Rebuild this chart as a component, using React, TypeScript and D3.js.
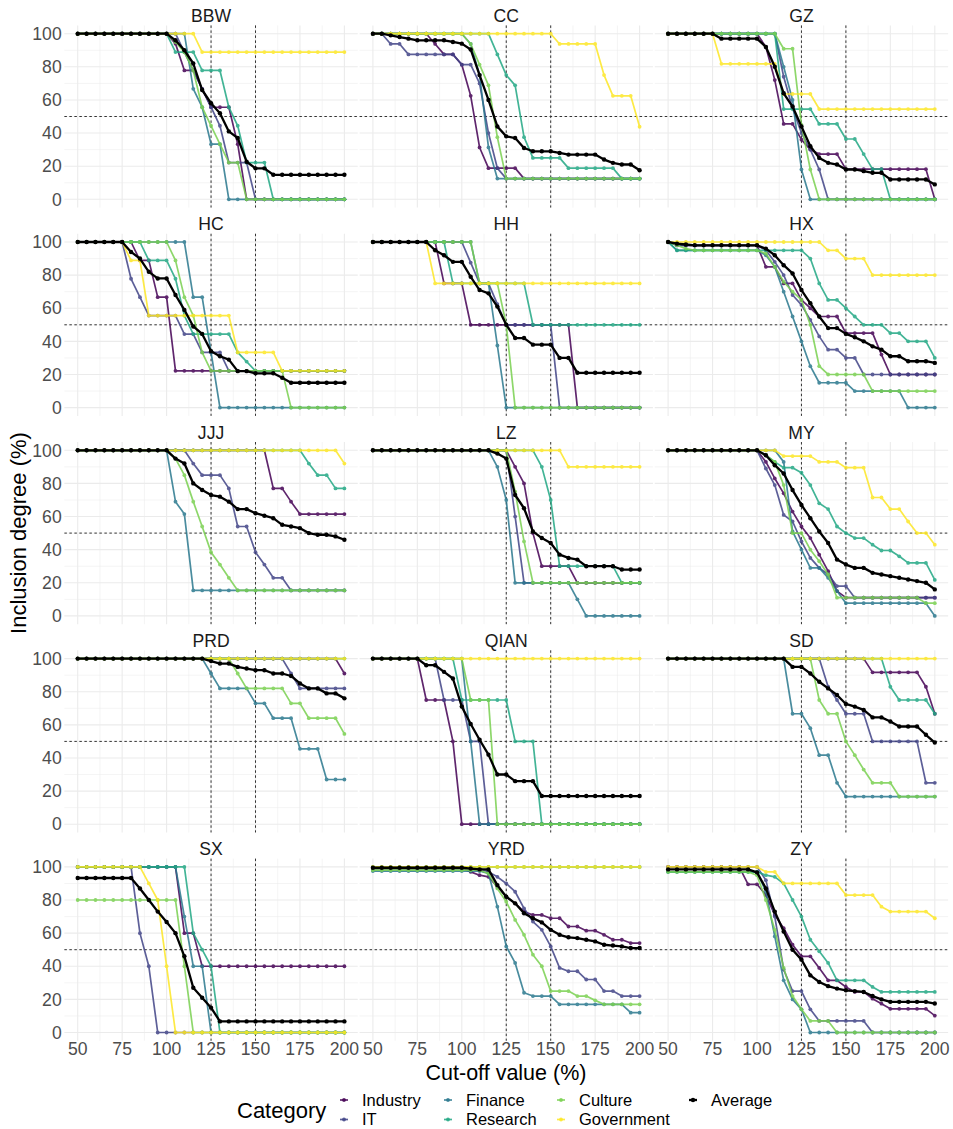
import React from "react";
import * as d3 from "d3";

const cutoffs = [50, 55, 60, 65, 70, 75, 80, 85, 90, 95, 100, 105, 110, 115, 120, 125, 130, 135, 140, 145, 150, 155, 160, 165, 170, 175, 180, 185, 190, 195, 200];
const regions = ["BBW", "CC", "GZ", "HC", "HH", "HX", "JJJ", "LZ", "MY", "PRD", "QIAN", "SD", "SX", "YRD", "ZY"];
const categories = ["Industry", "IT", "Finance", "Research", "Culture", "Government", "Average"];
const catColors = ["#440154", "#414487", "#2A788E", "#22A884", "#7AD151", "#FDE725", "#000000"];
const xMajor = [50, 75, 100, 125, 150, 175, 200];
const xMinor = [62.5, 87.5, 112.5, 137.5, 162.5, 187.5];
const yMajor = [0, 20, 40, 60, 80, 100];
const yMinor = [10, 30, 50, 70, 90];
const refX = [125, 150];
const refY = [50];

// BBW
const bbwIndustry = [100,100,100,100,100,100,100,100,100,100,100,94,77.8,77.8,66.7,55.6,55.6,55.6,33.3,0,0,0,0,0,0,0,0,0,0,0,0];
const bbwIT = [100,100,100,100,100,100,100,100,100,100,100,100,88.9,77.8,66.7,55.6,44.4,22.2,22.2,22.2,0,0,0,0,0,0,0,0,0,0,0];
const bbwFinance = [100,100,100,100,100,100,100,100,100,100,100,100,100,66.7,55.6,33.3,33.3,0,0,0,0,0,0,0,0,0,0,0,0,0,0];
const bbwResearch = [100,100,100,100,100,100,100,100,100,100,100,88.9,88.9,88.9,77.8,77.8,77.8,55.6,44.4,22.2,22.2,22.2,0,0,0,0,0,0,0,0,0];
const bbwCulture = [100,100,100,100,100,100,100,100,100,100,100,95,88.9,77.8,55.6,44.4,33.3,22.2,22.2,0,0,0,0,0,0,0,0,0,0,0,0];
const bbwGov = [100,100,100,100,100,100,100,100,100,100,100,100,100,100,88.9,88.9,88.9,88.9,88.9,88.9,88.9,88.9,88.9,88.9,88.9,88.9,88.9,88.9,88.9,88.9,88.9];
const bbwAvg = [100,100,100,100,100,100,100,100,100,100,100,96,90,82,66,58,52,41,37,22.7,18.7,18.7,14.8,14.8,14.8,14.8,14.8,14.8,14.8,14.8,14.8];

// CC
const ccIndustry = [100,100,100,100,100,100,100,93.8,87.5,87.5,81.3,62.5,31.3,18.8,18.8,18.8,18.8,12.5,12.5,12.5,12.5,12.5,12.5,12.5,12.5,12.5,12.5,12.5,12.5,12.5,12.5];
const ccIT = [100,100,93.8,93.8,87.5,87.5,87.5,87.5,87.5,87.5,81.3,81.3,70,40,18.8,12.5,12.5,12.5,12.5,12.5,12.5,12.5,12.5,12.5,12.5,12.5,12.5,12.5,12.5,12.5,12.5];
const ccFinance = [100,100,100,100,100,100,100,100,100,100,100,93.8,75,31.3,12.5,12.5,12.5,12.5,12.5,12.5,12.5,12.5,12.5,12.5,12.5,12.5,12.5,12.5,12.5,12.5,12.5];
const ccResearch = [100,100,100,100,100,100,100,100,100,100,100,100,100,100,87.5,75,68.8,37.5,25,25,25,25,18.8,18.8,18.8,18.8,18.8,18.8,12.5,12.5,12.5];
const ccCulture = [100,100,100,100,100,100,100,100,100,100,100,93.8,81.3,68.8,37.5,12.5,12.5,12.5,12.5,12.5,12.5,12.5,12.5,12.5,12.5,12.5,12.5,12.5,12.5,12.5,12.5];
const ccGov = [100,100,100,100,100,100,100,100,100,100,100,100,100,100,100,100,100,100,100,100,100,93.8,93.8,93.8,93.8,93.8,75,62.5,62.5,62.5,43.8];
const ccAvg = [100,100,99,98,97,96,96,96,96,95,94,90.5,75,60,44,38,37,31,29,29,29,28,27,27,27,27,24,22,21,21,17.5];

// GZ
const gzIndustry = [100,100,100,100,100,100,100,100,100,100,100,92,72,45.5,45.5,36,30,27.3,27.3,27.3,18.2,18.2,18.2,18.2,18.2,18.2,18.2,18.2,18.2,18.2,0];
const gzIT = [100,100,100,100,100,100,100,100,100,100,100,100,100,74,55,40,30,18,0,0,0,0,0,0,0,0,0,0,0,0,0];
const gzFinance = [100,100,100,100,100,100,100,100,100,100,100,100,100,80,60,18,0,0,0,0,0,0,0,0,0,0,0,0,0,0,0];
const gzResearch = [100,100,100,100,100,100,100,100,100,100,100,100,100,54.5,54.5,54.5,54.5,45.5,45.5,45.5,36.4,36.4,27.3,18.2,18.2,0,0,0,0,0,0];
const gzCulture = [100,100,100,100,100,100,100,100,100,100,100,100,100,90.9,90.9,45,18,0,0,0,0,0,0,0,0,0,0,0,0,0,0];
const gzGov = [100,100,100,100,100,100,81.8,81.8,81.8,81.8,81.8,81.8,81.8,63.6,63.6,63.6,63.6,54.5,54.5,54.5,54.5,54.5,54.5,54.5,54.5,54.5,54.5,54.5,54.5,54.5,54.5];
const gzAvg = [100,100,100,100,100,100,97,97,97,97,97,92,80,64,56,44,32,25,22,21,18,18,17,16,16,12,12,12,12,12,9];

// HC
const hcIndustry = [100,100,100,100,100,100,100,88.9,88.9,66.7,66.7,22.2,22.2,22.2,22.2,22.2,22.2,22.2,22.2,22.2,22.2,22.2,22.2,22.2,22.2,22.2,22.2,22.2,22.2,22.2,22.2];
const hcIT = [100,100,100,100,100,100,77.8,66.7,55.6,55.6,55.6,55.6,44.4,44.4,33.3,33.3,33.3,22.2,22.2,22.2,22.2,22.2,22.2,22.2,22.2,22.2,22.2,22.2,22.2,22.2,22.2];
const hcFinance = [100,100,100,100,100,100,100,100,100,100,100,100,100,66.7,66.7,33.3,0,0,0,0,0,0,0,0,0,0,0,0,0,0,0];
const hcResearch = [100,100,100,100,100,100,100,100,88.9,88.9,88.9,77.8,55.6,44.4,44.4,44.4,44.4,44.4,33.3,27.8,22.2,22.2,22.2,22.2,22.2,22.2,22.2,22.2,22.2,22.2,22.2];
const hcCulture = [100,100,100,100,100,100,100,100,100,100,100,88.9,66.7,55.6,33.3,22.2,22.2,22.2,22.2,22.2,22.2,22.2,22.2,22.2,0,0,0,0,0,0,0];
const hcGov = [100,100,100,100,100,100,88.9,88.9,55.6,55.6,55.6,55.6,55.6,55.6,55.6,55.6,55.6,55.6,33.3,33.3,33.3,33.3,33.3,22.2,22.2,22.2,22.2,22.2,22.2,22.2,22.2];
const hcAvg = [100,100,100,100,100,100,94,90,82,78,78,68,59,49,44.5,34,31,29,22,22,20.7,20.7,20.7,18,15,15,15,15,15,15,15];

// HH
const hhIndustry = [100,100,100,100,100,100,100,100,75,75,75,50,50,50,50,50,50,50,50,50,50,50,50,0,0,0,0,0,0,0,0];
const hhIT = [100,100,100,100,100,100,100,100,100,100,100,87.5,75,75,62.5,50,50,50,50,50,50,0,0,0,0,0,0,0,0,0,0];
const hhFinance = [100,100,100,100,100,100,100,100,100,100,100,100,75,75,37.5,0,0,0,0,0,0,0,0,0,0,0,0,0,0,0,0];
const hhResearch = [100,100,100,100,100,100,100,100,100,75,75,75,75,75,75,75,75,75,50,50,50,50,50,50,50,50,50,50,50,50,50];
const hhCulture = [100,100,100,100,100,100,100,100,100,100,100,100,75,75,75,50,0,0,0,0,0,0,0,0,0,0,0,0,0,0,0];
const hhGov = [100,100,100,100,100,100,100,75,75,75,75,75,75,75,75,75,75,75,75,75,75,75,75,75,75,75,75,75,75,75,75];
const hhAvg = [100,100,100,100,100,100,100,95,92,88,88,79,71,69,61,50,42,42,38,38,38,30,30,21,21,21,21,21,21,21,21];

// HX
const hxIndustry = [100,98,98,98,98,98,98,98,98,98,98,85,85,75,75,65,60,55,55,55,45,45,45,45,32,20,20,20,20,20,20];
const hxIT = [100,98,98,98,98,98,98,98,98,98,98,95,88,80,68,62,53,43,35,35,30,30,20,20,20,20,20,20,20,20,20];
const hxFinance = [100,95,95,95,95,95,95,95,95,95,95,92,85,70,55,40,25,15,15,15,15,10,10,10,10,10,10,0,0,0,0];
const hxResearch = [100,95,95,95,95,95,95,95,95,95,95,95,95,95,95,95,90,75,65,65,60,55,50,50,50,45,45,40,40,40,30];
const hxCulture = [100,98,96,95,95,95,95,95,95,95,95,93,85,76,70,65,50,25,20,20,20,20,20,10,10,10,10,10,10,10,10];
const hxGov = [100,100,100,100,100,100,100,100,100,100,100,100,100,100,100,100,100,100,95,95,90,90,90,80,80,80,80,80,80,80,80];
const hxAvg = [100,99,98.5,98,98,98,98,98,98,98,98,96,92,86,81,71,63,55,48,48,44.5,42.5,40,37,35,31,31,28,28,28,27];

// JJJ
const jjjIndustry = [100,100,100,100,100,100,100,100,100,100,100,100,100,100,100,100,100,100,100,100,100,100,77,77,69,61.5,61.5,61.5,61.5,61.5,61.5];
const jjjIT = [100,100,100,100,100,100,100,100,100,100,100,100,100,92,85,85,85,77,54,54,38.5,31,23,23,15.4,15.4,15.4,15.4,15.4,15.4,15.4];
const jjjFinance = [100,100,100,100,100,100,100,100,100,100,100,69,61.5,15.4,15.4,15.4,15.4,15.4,15.4,15.4,15.4,15.4,15.4,15.4,15.4,15.4,15.4,15.4,15.4,15.4,15.4];
const jjjResearch = [100,100,100,100,100,100,100,100,100,100,100,100,100,100,100,100,100,100,100,100,100,100,100,100,100,100,92,85,85,77,77];
const jjjCulture = [100,100,100,100,100,100,100,100,100,100,100,95,85,69,54,38.5,31,23,15.4,15.4,15.4,15.4,15.4,15.4,15.4,15.4,15.4,15.4,15.4,15.4,15.4];
const jjjGov = [100,100,100,100,100,100,100,100,100,100,100,100,100,100,100,100,100,100,100,100,100,100,100,100,100,100,100,100,100,100,92];
const jjjAvg = [100,100,100,100,100,100,100,100,100,100,100,95,92,80,76,73,72,69,64.5,64.5,62,60.5,59,55,54,53,50,49,49,48,46];

// LZ
const lzIndustry = [100,100,100,100,100,100,100,100,100,100,100,100,100,100,100,100,90,80,50,30,30,30,30,20,20,20,20,20,20,20,20];
const lzIT = [100,100,100,100,100,100,100,100,100,100,100,100,100,100,100,100,60,20,20,20,20,20,20,20,20,20,20,20,20,20,20];
const lzFinance = [100,100,100,100,100,100,100,100,100,100,100,100,100,100,90,70,20,20,20,20,20,20,20,10,0,0,0,0,0,0,0];
const lzResearch = [100,100,100,100,100,100,100,100,100,100,100,100,100,100,100,100,100,100,100,90,70,30,30,30,30,30,30,30,20,20,20];
const lzCulture = [100,100,100,100,100,100,100,100,100,100,100,100,100,100,100,100,75,45,20,20,20,20,20,20,20,20,20,20,20,20,20];
const lzGov = [100,100,100,100,100,100,100,100,100,100,100,100,100,100,100,100,100,100,100,100,100,100,90,90,90,90,90,90,90,90,90];
const lzAvg = [100,100,100,100,100,100,100,100,100,100,100,100,100,100,98,95,73,65,51,47,44,37,35,34,30,30,30,30,28,28,28];

// MY
const myIndustry = [100,100,100,100,100,100,100,100,100,100,100,93,83,74,63,54,47,37,27,15,11,11,11,11,11,11,11,11,11,11,11];
const myIT = [100,100,100,100,100,100,100,100,100,100,100,89,79,61,57,45,35,29,25,18,18,11,11,11,11,11,11,11,11,11,11];
const myFinance = [100,100,100,100,100,100,100,100,100,100,100,100,100,93,51,40,29,29,23,15,7.7,7.7,7.7,7.7,7.7,7.7,7.7,7.7,7.7,7.7,0];
const myResearch = [100,100,100,100,100,100,100,100,100,100,100,97,93,89.5,89.5,86.5,79,68,64.5,54,50,47,47,43,39.5,39.5,36,32,32,32,21.7];
const myCulture = [100,100,100,100,100,100,100,100,100,100,100,97,93,79,50,50,40,33,25,11,11,11,11,11,11,11,11,11,11,7.7,7.7];
const myGov = [100,100,100,100,100,100,100,100,100,100,100,100,100,96.5,96.5,96.5,96.5,93,93,93,89.5,89.5,89.5,71.5,71.5,64.5,64.5,57,50,50,43];
const myAvg = [100,100,100,100,100,100,100,100,100,100,100,97,91,86,76,67,59,51,44,34,31,29,29,26,25,24,23,22,21,20,16];

// PRD
const prdIndustry = [100,100,100,100,100,100,100,100,100,100,100,100,100,100,100,100,100,100,100,100,100,100,100,100,100,100,100,100,100,100,91];
const prdIT = [100,100,100,100,100,100,100,100,100,100,100,100,100,100,100,100,100,100,100,100,100,100,100,100,91,82,82,82,82,82,82];
const prdFinance = [100,100,100,100,100,100,100,100,100,100,100,100,100,100,100,91,82,82,82,82,73,73,64,64,64,45.5,45.5,45.5,27,27,27];
const prdResearch = [100,100,100,100,100,100,100,100,100,100,100,100,100,100,100,100,100,100,100,100,100,100,100,100,100,100,100,100,100,100,100];
const prdCulture = [100,100,100,100,100,100,100,100,100,100,100,100,100,100,100,100,100,100,91,82,82,82,82,82,73,73,64,64,64,64,54.5];
const prdGov = [100,100,100,100,100,100,100,100,100,100,100,100,100,100,100,100,100,100,100,100,100,100,100,100,100,100,100,100,100,100,100];
const prdAvg = [100,100,100,100,100,100,100,100,100,100,100,100,100,100,100,98.5,97,97,95,94,93,93,91,91,89.5,85,82,82,79,79,76];

// QIAN
const qianIndustry = [100,100,100,100,100,100,75,75,75,50,0,0,0,0,0,0,0,0,0,0,0,0,0,0,0,0,0,0,0,0,0];
const qianIT = [100,100,100,100,100,100,100,100,75,75,75,50,50,0,0,0,0,0,0,0,0,0,0,0,0,0,0,0,0,0,0];
const qianFinance = [100,100,100,100,100,100,100,100,100,100,100,50,0,0,0,0,0,0,0,0,0,0,0,0,0,0,0,0,0,0,0];
const qianResearch = [100,100,100,100,100,100,100,100,100,100,75,75,75,75,75,75,50,50,50,0,0,0,0,0,0,0,0,0,0,0,0];
const qianCulture = [100,100,100,100,100,100,100,100,100,100,100,75,75,75,0,0,0,0,0,0,0,0,0,0,0,0,0,0,0,0,0];
const qianGov = [100,100,100,100,100,100,100,100,100,100,100,100,100,100,100,100,100,100,100,100,100,100,100,100,100,100,100,100,100,100,100];
const qianAvg = [100,100,100,100,100,100,96,96,92,88,71,60.5,51,42,30,30,26,26,26,17,17,17,17,17,17,17,17,17,17,17,17];

// SD
const sdIndustry = [100,100,100,100,100,100,100,100,100,100,100,100,100,100,100,100,100,100,100,100,100,100,100,91.7,91.7,91.7,91.7,91.7,91.7,83,66.7];
const sdIT = [100,100,100,100,100,100,100,100,100,100,100,100,100,100,100,100,100,100,83,75,66.7,66.7,66.7,50,50,50,50,50,50,25,25];
const sdFinance = [100,100,100,100,100,100,100,100,100,100,100,100,100,100,66.7,66.7,58,41.7,41.7,25,16.7,16.7,16.7,16.7,16.7,16.7,16.7,16.7,16.7,16.7,16.7];
const sdResearch = [100,100,100,100,100,100,100,100,100,100,100,100,100,100,100,100,100,100,100,100,100,100,100,100,100,83,75,75,75,75,66.7];
const sdCulture = [100,100,100,100,100,100,100,100,100,100,100,100,100,100,100,100,100,75,66.7,66.7,50,41.7,33,25,25,25,16.7,16.7,16.7,16.7,16.7];
const sdGov = [100,100,100,100,100,100,100,100,100,100,100,100,100,100,100,100,100,100,100,100,100,100,100,100,100,100,100,100,100,100,100];
const sdAvg = [100,100,100,100,100,100,100,100,100,100,100,100,100,100,95,95,91,86,82,78,72.6,71,69,64.5,64.5,62,59,59,59,54,49.3];

// SX
const sxIndustry = [100,100,100,100,100,100,100,100,100,100,100,100,60,60,40,40,40,40,40,40,40,40,40,40,40,40,40,40,40,40,40];
const sxIT = [100,100,100,100,100,100,100,60,40,0,0,0,0,0,0,0,0,0,0,0,0,0,0,0,0,0,0,0,0,0,0];
const sxFinance = [100,100,100,100,100,100,100,100,100,100,100,100,70,40,40,0,0,0,0,0,0,0,0,0,0,0,0,0,0,0,0];
const sxResearch = [100,100,100,100,100,100,100,100,100,100,100,100,100,60,50,40,0,0,0,0,0,0,0,0,0,0,0,0,0,0,0];
const sxCulture = [80,80,80,80,80,80,80,80,80,80,80,80,40,0,0,0,0,0,0,0,0,0,0,0,0,0,0,0,0,0,0];
const sxGov = [100,100,100,100,100,100,100,100,90,80,40,0,0,0,0,0,0,0,0,0,0,0,0,0,0,0,0,0,0,0,0];
const sxAvg = [93.3,93.3,93.3,93.3,93.3,93.3,93.3,87,80,73,66.7,60,46,27,21,15,6.7,6.7,6.7,6.7,6.7,6.7,6.7,6.7,6.7,6.7,6.7,6.7,6.7,6.7,6.7];

// YRD
const yrdIndustry = [99,99,99,99,99,99,99,99,99,99,99,97,95,94,88,82,78,73,71,71,69,69,64,64,61.5,61.5,59,56,56,54,54];
const yrdIT = [99,99,99,99,99,99,99,99,99,99,99,99,99,97,94,90,85,75,67,62,52,39,37,37,32,32,25,25,22,22,22];
const yrdFinance = [97.5,97.5,97.5,97.5,97.5,97.5,97.5,97.5,97.5,97.5,97.5,97.5,97.5,96,76,52,42,24,22,22,22,17,17,17,17,17,17,17,17,12,12];
const yrdResearch = [100,100,100,100,100,100,100,100,100,100,100,100,100,100,100,100,100,100,100,100,100,100,100,100,100,100,100,100,100,100,100];
const yrdCulture = [98,98,98,98,98,98,98,98,98,98,98,98,98,96,87,79,68,59,47,40,25,25,25,22,22,19.4,17,17,17,17,17];
const yrdGov = [100,100,100,100,100,100,100,100,100,100,100,100,100,100,100,100,100,100,100,100,100,100,100,100,100,100,100,100,100,100,100];
const yrdAvg = [99.5,99.5,99.5,99.5,99.5,99.5,99.5,99.5,99.5,99.5,99.5,99,98.5,98.5,89,82,78,72,69,66.5,62,59,57.5,57,56,55,53,52.5,52,51,51];

// ZY
const zyIndustry = [100,100,100,100,100,100,100,100,100,89.5,89.5,83,71,63,53,46,46,39,31.5,31.5,27.5,24.5,24.5,20.4,17.4,14.3,14.3,14.3,14.3,14.3,10.2];
const zyIT = [100,100,100,100,100,100,100,100,100,100,100,92,70,38,25,25,14,7,7,7,7,7,7,0,0,0,0,0,0,0,0];
const zyFinance = [97,97,97,97,97,97,97,97,97,97,97,85,58,31.5,20,14,0,0,0,0,0,0,0,0,0,0,0,0,0,0,0];
const zyResearch = [97,97,97,97,97,97,97,97,97,97,97,95,94,90,80,70,56,49,42,31.5,31.5,31.5,31.5,27.5,24.5,24.5,24.5,24.5,24.5,24.5,24.5];
const zyCulture = [97,97,97,97,97,97,97,97,97,97,95,80,62,39,22,14,7,7,7,0,0,0,0,0,0,0,0,0,0,0,0];
const zyGov = [100,100,100,100,100,100,100,100,100,100,100,97,97,90,90,90,90,90,90,90,83,83,83,83,76,73,73,73,73,73,69];
const zyAvg = [98.5,98.5,98.5,98.5,98.5,98.5,98.5,98.5,98.5,98.5,96.7,87,73,61,50,44,34.5,30.5,28,26.5,25.5,25,24.5,22,20,18.5,18.5,18.5,18.5,18.5,17.5];

const regionSeries: Record<string, number[][]> = {
  BBW: [bbwIndustry, bbwIT, bbwFinance, bbwResearch, bbwCulture, bbwGov, bbwAvg],
  CC: [ccIndustry, ccIT, ccFinance, ccResearch, ccCulture, ccGov, ccAvg],
  GZ: [gzIndustry, gzIT, gzFinance, gzResearch, gzCulture, gzGov, gzAvg],
  HC: [hcIndustry, hcIT, hcFinance, hcResearch, hcCulture, hcGov, hcAvg],
  HH: [hhIndustry, hhIT, hhFinance, hhResearch, hhCulture, hhGov, hhAvg],
  HX: [hxIndustry, hxIT, hxFinance, hxResearch, hxCulture, hxGov, hxAvg],
  JJJ: [jjjIndustry, jjjIT, jjjFinance, jjjResearch, jjjCulture, jjjGov, jjjAvg],
  LZ: [lzIndustry, lzIT, lzFinance, lzResearch, lzCulture, lzGov, lzAvg],
  MY: [myIndustry, myIT, myFinance, myResearch, myCulture, myGov, myAvg],
  PRD: [prdIndustry, prdIT, prdFinance, prdResearch, prdCulture, prdGov, prdAvg],
  QIAN: [qianIndustry, qianIT, qianFinance, qianResearch, qianCulture, qianGov, qianAvg],
  SD: [sdIndustry, sdIT, sdFinance, sdResearch, sdCulture, sdGov, sdAvg],
  SX: [sxIndustry, sxIT, sxFinance, sxResearch, sxCulture, sxGov, sxAvg],
  YRD: [yrdIndustry, yrdIT, yrdFinance, yrdResearch, yrdCulture, yrdGov, yrdAvg],
  ZY: [zyIndustry, zyIT, zyFinance, zyResearch, zyCulture, zyGov, zyAvg],
};

const W = 953;
const H = 1129;
const FONT = "'Liberation Sans', Arial, Helvetica, sans-serif";
const COL_X = [77.7, 372.9, 668.1];
const XW = 266.7;
const ROW_Y = 33.7;
const ROW_STEP = 208.3;
const YH = 165.6;
const GRID = "#EBEBEB";
const TICK_COLOR = "#4D4D4D";

function Panel({ name, idx }: { name: string; idx: number }) {
  const c = idx % 3;
  const r = Math.floor(idx / 3);
  const x = d3.scaleLinear().domain([50, 200]).range([COL_X[c], COL_X[c] + XW]);
  const y = d3.scaleLinear().domain([0, 100]).range([ROW_Y + r * ROW_STEP + YH, ROW_Y + r * ROW_STEP]);
  const xl = x(42.5), xr = x(207.5), yt = y(105), yb = y(-5);
  const line = d3.line<number>().x((_, i) => x(cutoffs[i])).y((v) => y(v));
  const series = regionSeries[name];
  return (
    <g>
      {xMinor.map((v) => (
        <line key={"xm" + v} x1={x(v)} x2={x(v)} y1={yt} y2={yb} stroke={GRID} strokeWidth={0.55} />
      ))}
      {yMinor.map((v) => (
        <line key={"ym" + v} x1={xl} x2={xr} y1={y(v)} y2={y(v)} stroke={GRID} strokeWidth={0.55} />
      ))}
      {xMajor.map((v) => (
        <line key={"xM" + v} x1={x(v)} x2={x(v)} y1={yt} y2={yb} stroke={GRID} strokeWidth={1.1} />
      ))}
      {yMajor.map((v) => (
        <line key={"yM" + v} x1={xl} x2={xr} y1={y(v)} y2={y(v)} stroke={GRID} strokeWidth={1.1} />
      ))}
      {refX.map((v) => (
        <line key={"rx" + v} x1={x(v)} x2={x(v)} y1={yt} y2={yb} stroke="#333333" strokeWidth={1} strokeDasharray="2.5,2.5" />
      ))}
      {refY.map((v) => (
        <line key={"ry" + v} x1={xl} x2={xr} y1={y(v)} y2={y(v)} stroke="#333333" strokeWidth={1} strokeDasharray="2.5,2.5" />
      ))}
      {series.map((vals, si) => {
        const isAvg = si === 6;
        return (
          <g key={si} opacity={isAvg ? 1 : 0.85}>
            <path d={line(vals) || ""} fill="none" stroke={catColors[si]} strokeWidth={isAvg ? 2.3 : 1.7} strokeLinejoin="round" />
            {vals.map((v, i) => (
              <circle key={i} cx={x(cutoffs[i])} cy={y(v)} r={isAvg ? 2.2 : 1.9} fill={catColors[si]} />
            ))}
          </g>
        );
      })}
      <text x={x(125)} y={y(100) - 11.7} textAnchor="middle" fontSize={17.6} fill="#1A1A1A" fontFamily={FONT}>
        {name}
      </text>
      {c === 0 &&
        yMajor.map((v) => (
          <text key={"yt" + v} x={61.7} y={y(v) + 6.2} textAnchor="end" fontSize={17.6} fill={TICK_COLOR} fontFamily={FONT}>
            {v}
          </text>
        ))}
      {r === 4 &&
        xMajor.map((v) => (
          <text key={"xt" + v} x={x(v)} y={1055} textAnchor="middle" fontSize={17.6} fill={TICK_COLOR} fontFamily={FONT}>
            {v}
          </text>
        ))}
    </g>
  );
}

const legendCols = [344, 448, 561, 693];
const legendRows = [1100, 1119.5];

export default function App() {
  return (
    <svg width={W} height={H} style={{ position: "absolute", left: 0, top: 0, background: "#ffffff" }} fontFamily={FONT}>
      <rect x={0} y={0} width={W} height={H} fill="#ffffff" />
      {regions.map((name, i) => (
        <Panel key={name} name={name} idx={i} />
      ))}
      <text x={506} y={1080} textAnchor="middle" fontSize={21.5} fill="#000000">
        Cut-off value (%)
      </text>
      <text transform={`translate(26,533) rotate(-90)`} textAnchor="middle" fontSize={22} fill="#000000">
        Inclusion degree (%)
      </text>
      <text x={237} y={1118} fontSize={22} fill="#000000">
        Category
      </text>
      {categories.map((cat, i) => {
        const col = Math.floor(i / 2);
        const row = i % 2;
        const kx = legendCols[col];
        const ky = legendRows[row];
        const isAvg = i === 6;
        return (
          <g key={cat}>
            <line x1={kx - 4} x2={kx + 4} y1={ky} y2={ky} stroke={catColors[i]} strokeWidth={isAvg ? 2.3 : 1.7} opacity={isAvg ? 1 : 0.85} />
            <circle cx={kx} cy={ky} r={isAvg ? 2.2 : 1.9} fill={catColors[i]} opacity={isAvg ? 1 : 0.85} />
            <text x={kx + 18} y={ky + 5.8} fontSize={16.5} fill="#000000">
              {cat}
            </text>
          </g>
        );
      })}
    </svg>
  );
}
